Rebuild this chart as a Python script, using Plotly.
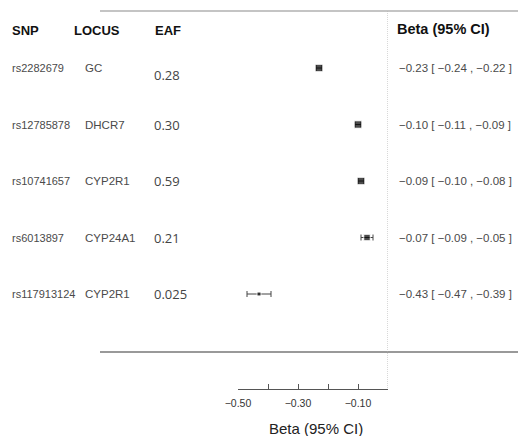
import plotly.graph_objects as go

# Variant table
snps = ["rs2282679", "rs12785878", "rs10741657", "rs6013897", "rs117913124"]
loci = ["GC", "DHCR7", "CYP2R1", "CYP24A1", "CYP2R1"]
eaf = ["0.28", "0.30", "0.59", "0.21", "0.025"]
beta = [-0.23, -0.10, -0.09, -0.07, -0.43]
ci_low = [-0.24, -0.11, -0.10, -0.09, -0.47]
ci_high = [-0.22, -0.09, -0.08, -0.05, -0.39]

tick_vals = [-0.5, -0.4, -0.3, -0.2, -0.1, 0.0]
tick_text = ["−0.50", "", "−0.30", "", "−0.10", ""]

# row positions: first variant on top
rows = list(range(len(snps), 0, -1))

W, H = 518, 436
def px_x(p):
    return p / W
def px_y(p):
    return 1 - p / H

marker_sizes = [7.5, 7.5, 7.5, 6.5, 4]
eaf_yshift = [-7, 0, 0, 0, 0]

TXT = "Liberation Sans, Arial, sans-serif"
GREY = "#4a4a4a"

fig = go.Figure()
fig.add_trace(go.Scatter(
    x=beta, y=rows, mode="markers",
    marker=dict(symbol="square", size=marker_sizes, color="black"),
    error_x=dict(type="data", symmetric=False,
                 array=[h - b for h, b in zip(ci_high, beta)],
                 arrayminus=[b - l for l, b in zip(ci_low, beta)],
                 color="#444", thickness=1, width=3),
    showlegend=False, hoverinfo="skip",
))

def fmt(v):
    return f"{v:.2f}".replace("-", "−")

ann = []
# column headers
for label, xp in [("SNP", 10), ("LOCUS", 72), ("EAF", 153)]:
    ann.append(dict(text=f"<b>{label}</b>", x=px_x(xp), y=px_y(30), xref="paper", yref="paper",
                    xanchor="left", yanchor="middle", showarrow=False,
                    font=dict(family=TXT, size=13, color="#111")))
ann.append(dict(text="<b>Beta (95% CI)</b>", x=px_x(395), y=px_y(29), xref="paper", yref="paper",
                xanchor="left", yanchor="middle", showarrow=False,
                font=dict(family=TXT, size=14.5, color="#111")))

for i, r in enumerate(rows):
    ann.append(dict(text=snps[i], x=px_x(10), y=r, xref="paper", yref="y",
                    xanchor="left", yanchor="middle", showarrow=False,
                    font=dict(family=TXT, size=11, color=GREY)))
    ann.append(dict(text=loci[i], x=px_x(83), y=r, xref="paper", yref="y",
                    xanchor="left", yanchor="middle", showarrow=False,
                    font=dict(family=TXT, size=11.5, color=GREY)))
    ann.append(dict(text=eaf[i], x=px_x(152), y=r, xref="paper", yref="y", yshift=eaf_yshift[i],
                    xanchor="left", yanchor="middle", showarrow=False,
                    font=dict(family="Open Sans, sans-serif", size=13, color="#444")))
    ann.append(dict(text=f"{fmt(beta[i])} [ {fmt(ci_low[i])} , {fmt(ci_high[i])} ]",
                    x=px_x(397), y=r, xref="paper", yref="y",
                    xanchor="left", yanchor="middle", showarrow=False,
                    font=dict(family=TXT, size=11.5, color=GREY)))

ann.append(dict(text="Beta (95% CI)", x=px_x(316), y=px_y(428), xref="paper", yref="paper",
                xanchor="center", yanchor="middle", showarrow=False,
                font=dict(family=TXT, size=15, color="#222")))

shapes = [
    # top rule
    dict(type="line", xref="paper", yref="paper", x0=px_x(100), x1=1, y0=px_y(11), y1=px_y(11),
         line=dict(color="#c4c4c4", width=2)),
    # rule above axis
    dict(type="line", xref="paper", yref="paper", x0=px_x(100), x1=1, y0=px_y(352), y1=px_y(352),
         line=dict(color="#777", width=1.5)),
    # null reference line
    dict(type="line", xref="x", yref="paper", x0=0, x1=0, y0=px_y(11), y1=px_y(389),
         line=dict(color="#b0b0b0", width=1, dash="1px,1px")),
]

fig.update_layout(
    width=W, height=H, margin=dict(l=0, r=0, t=0, b=0, pad=0, autoexpand=False),
    paper_bgcolor="white", plot_bgcolor="white",
    annotations=ann, shapes=shapes,
    xaxis=dict(domain=[px_x(238), px_x(388)], range=[-0.5, 0], anchor="free", position=px_y(389),
               tickvals=tick_vals, ticktext=tick_text, ticks="inside", ticklen=5,
               tickcolor="#555", showline=True, linecolor="#555", linewidth=1,
               showgrid=False, zeroline=False, ticklabelstandoff=4, automargin=False,
               tickfont=dict(family=TXT, size=10.5, color="#333")),
    yaxis=dict(range=[1 - 142 / 56.5, 1 + 294 / 56.5], domain=[0, 1], visible=False,
               automargin=False),
)

fig.write_html("out.html")
